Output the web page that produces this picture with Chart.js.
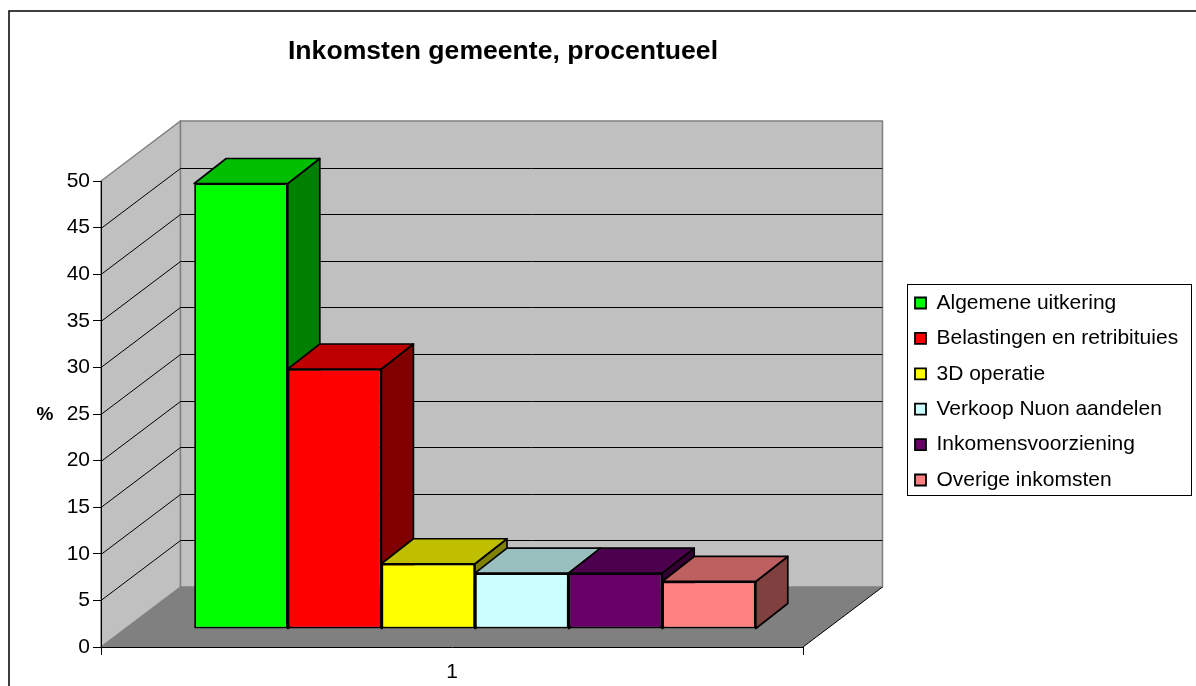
<!DOCTYPE html>
<html>
<head>
<meta charset="utf-8">
<title>Inkomsten gemeente, procentueel</title>
<script src="https://cdn.jsdelivr.net/npm/chart.js@4"></script>
<style>
    html, body { margin: 0; padding: 0; background: #fff; overflow: hidden; }
    canvas { display: block; }
</style>
</head>
<body>
<canvas id="chart" width="1196" height="686"></canvas>
<script>
const categories = ['1'];
const seriesNames = ['Algemene uitkering', 'Belastingen en retribituies', '3D operatie', 'Verkoop Nuon aandelen', 'Inkomensvoorziening', 'Overige inkomsten'];
const seriesValues = [47.8, 27.9, 7, 6, 6, 5.1];
const seriesColors = ['#00ff00', '#ff0000', '#ffff00', '#ccffff', '#660066', '#ff8080'];

const FONT = '"Liberation Sans", Arial, sans-serif';

// diepte van de 3D-weergave
const wallDepth = { x: 79.5, y: -60 };
const barOffset = { x: 23, y: -18 };
const barDepth = { x: 32, y: -25 };

function shade(hex, factor) {
    const n = parseInt(hex.slice(1), 16);
    const r = Math.round((n >> 16 & 255) * factor);
    const g = Math.round((n >> 8 & 255) * factor);
    const b = Math.round((n & 255) * factor);
    return 'rgb(' + r + ',' + g + ',' + b + ')';
}

function poly(ctx, points, fill, stroke, width) {
    ctx.beginPath();
    points.forEach((p, i) => i ? ctx.lineTo(p[0], p[1]) : ctx.moveTo(p[0], p[1]));
    ctx.closePath();
    if (fill) {
        ctx.fillStyle = fill;
        ctx.fill();
    }
    if (stroke) {
        ctx.strokeStyle = stroke;
        ctx.lineWidth = width;
        ctx.stroke();
    }
}

const chart3d = {
    id: 'chart3d',
    afterLayout(chart) {
        // titel en legenda staan niet midden boven het canvas
        chart.titleBlock.left = 0;
        chart.titleBlock.right = 1006;
        const legend = chart.legend;
        const w = legend.width, h = legend.height;
        legend.left = 900.6;
        legend.right = legend.left + w;
        legend.top = 278.1;
        legend.bottom = legend.top + h;
    },
    beforeDraw(chart) {
        const { ctx, chartArea: a, scales: { y } } = chart;
        const dx = wallDepth.x, dy = wallDepth.y;
        ctx.save();
        // kader om de grafiek, loopt rechts en onder buiten beeld
        ctx.strokeStyle = '#000';
        ctx.lineWidth = 1.5;
        ctx.strokeRect(9, 11, 1300, 800);
        // vloer
        poly(ctx, [[a.left, a.bottom], [a.right, a.bottom], [a.right + dx, a.bottom + dy], [a.left + dx, a.bottom + dy]], '#808080');
        // linkerwand en achterwand
        poly(ctx, [[a.left, a.bottom], [a.left + dx, a.bottom + dy], [a.left + dx, a.top + dy], [a.left, a.top]], '#c0c0c0', '#808080', 1.5);
        poly(ctx, [[a.left + dx, a.top + dy], [a.right + dx, a.top + dy], [a.right + dx, a.bottom + dy], [a.left + dx, a.bottom + dy]], '#c0c0c0', '#808080', 1.5);
        // rasterlijnen over de wanden
        y.ticks.forEach(t => {
            if (t.value === 0 || t.value === 50) return;
            const py = Math.round(y.getPixelForValue(t.value)) + 0.5;
            ctx.beginPath();
            ctx.moveTo(a.left, py);
            ctx.lineTo(a.left + dx, py + dy);
            ctx.lineTo(a.right + dx, py + dy);
            ctx.strokeStyle = '#000';
            ctx.lineWidth = 1;
            ctx.stroke();
        });
        // rechterrand van de vloer
        ctx.beginPath();
        ctx.moveTo(a.right, a.bottom);
        ctx.lineTo(a.right + dx, a.bottom + dy);
        ctx.strokeStyle = '#000';
        ctx.lineWidth = 1;
        ctx.stroke();
        ctx.restore();
    },
    beforeDatasetsDraw(chart) {
        // zijkant en bovenkant van links naar rechts, de voorkant tekent Chart.js zelf
        const ctx = chart.ctx;
        ctx.save();
        ctx.lineJoin = 'round';
        ctx.translate(barOffset.x, barOffset.y);
        chart.data.datasets.forEach((ds, i) => {
            const bar = chart.getDatasetMeta(i).data[0];
            const l = bar.x - bar.width / 2, r = bar.x + bar.width / 2;
            const t = bar.y, b = bar.base;
            const dx = barDepth.x, dy = barDepth.y;
            poly(ctx, [[r, t], [r + dx, t + dy], [r + dx, b + dy], [r, b]], shade(ds.backgroundColor, 0.5), '#000', 1.7);
            poly(ctx, [[l, t], [l + dx, t + dy], [r + dx, t + dy], [r, t]], shade(ds.backgroundColor, 0.75), '#000', 1.7);
        });
        ctx.restore();
    },
    beforeDatasetDraw(chart) {
        chart.ctx.save();
        chart.ctx.translate(barOffset.x, barOffset.y);
    },
    afterDatasetDraw(chart) {
        chart.ctx.restore();
    },
    afterDraw(chart) {
        const { ctx, scales: { y } } = chart;
        ctx.save();
        // legendakader
        ctx.strokeStyle = '#000';
        ctx.lineWidth = 1;
        ctx.strokeRect(907.5, 284.5, 284, 211);
        // as-titel staat rechtop, dat kan de schaal zelf niet
        ctx.fillStyle = '#000';
        ctx.font = 'bold 19px ' + FONT;
        ctx.textAlign = 'center';
        ctx.textBaseline = 'middle';
        ctx.fillText('%', 45, (y.top + y.bottom) / 2 + 1);
        ctx.restore();
    }
};

new Chart(document.getElementById('chart'), {
    type: 'bar',
    data: {
        labels: categories,
        datasets: seriesNames.map((name, i) => ({
            label: name,
            data: [seriesValues[i]],
            backgroundColor: seriesColors[i],
            borderColor: '#000',
            borderWidth: 1.8,
            borderSkipped: false,
            barPercentage: 1,
            categoryPercentage: 0.8,
        })),
    },
    options: {
        responsive: false,
        animation: false,
        layout: {
            padding: { left: 0, right: 393, top: 0, bottom: 0 },
        },
        scales: {
            x: {
                grid: { drawOnChartArea: false, color: '#000', tickLength: 8 },
                border: { color: '#000', width: 1 },
                ticks: { color: '#000', font: { family: FONT, size: 21 }, padding: 5 },
                afterFit: scale => { scale.height = 39; },
            },
            y: {
                min: 0,
                max: 50,
                grid: { drawOnChartArea: false, color: '#000', tickLength: 8 },
                border: { color: '#000', width: 1 },
                ticks: { stepSize: 5, color: '#000', font: { family: FONT, size: 21 }, padding: 3 },
                afterFit: scale => { scale.width = 101; },
            },
        },
        plugins: {
            title: {
                display: true,
                text: 'Inkomsten gemeente, procentueel',
                color: '#000',
                font: { family: FONT, size: 26.6, weight: 'bold' },
                padding: { top: 36, bottom: 113.1 },
            },
            legend: {
                position: 'chartArea',
                align: 'start',
                labels: {
                    color: '#000',
                    font: { family: FONT, size: 21 },
                    boxWidth: 11,
                    boxHeight: 11,
                    padding: 14.4,
                },
            },
            tooltip: { enabled: false },
        },
    },
    plugins: [chart3d],
});
</script>
</body>
</html>
